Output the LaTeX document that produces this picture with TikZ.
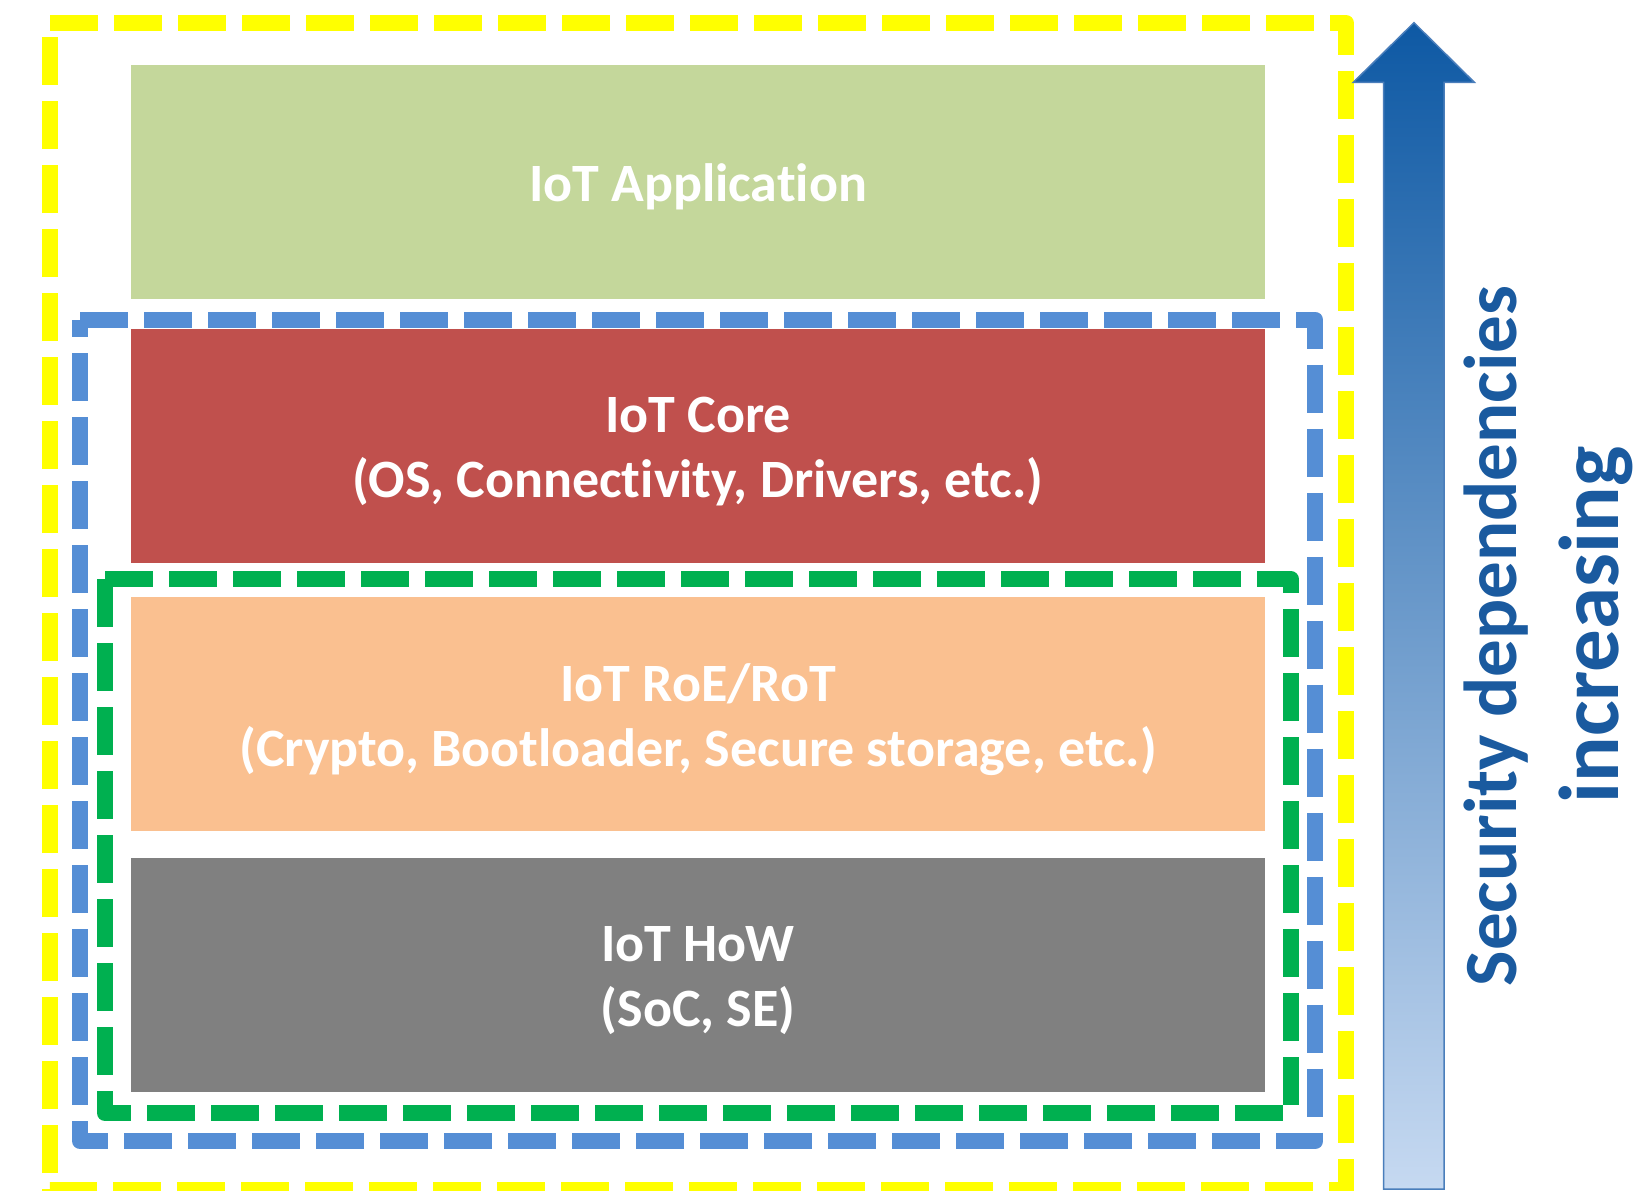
\documentclass[tikz,border=0pt]{standalone}
\usepackage{fontspec}
\setmainfont{Carlito}[Ligatures=NoCommon]
\definecolor{appgreen}{HTML}{C4D79B}
\definecolor{corered}{HTML}{C0504D}
\definecolor{roeorange}{HTML}{FAC090}
\definecolor{howgray}{HTML}{808080}
\definecolor{yellowframe}{HTML}{FFFF00}
\definecolor{blueframe}{HTML}{558ED5}
\definecolor{greenframe}{HTML}{00B050}
\definecolor{arrowtop}{HTML}{0E59A4}
\definecolor{arrowbot}{HTML}{C6D9F1}
\definecolor{arrowline}{HTML}{4A7EBB}
\definecolor{secblue}{HTML}{1A5A9F}
\begin{document}
\begin{tikzpicture}[x=1pt,y=-1pt,
  layer/.style={minimum width=1134pt, minimum height=233.7pt, inner sep=0pt, outer sep=0pt},
  layertext/.style={text=white, align=center, inner sep=0pt,
    font=\bfseries\fontsize{54}{65}\selectfont},
  frame/.style={line width=16pt, dash pattern=on 48pt off 16pt, line join=round},
  sidetext/.style={rotate=90, anchor=base, text=secblue, inner sep=0pt}]
\useasboundingbox (0,0) rectangle (1636,1191);
\fill[white] (0,0) rectangle (1636,1191);
% layers
\node[layer, fill=appgreen] (app) at (698,181.85) {};
\node[layer, fill=corered] (core) at (698,445.85) {};
\node[layer, fill=roeorange] (roe) at (698,713.85) {};
\node[layer, fill=howgray] (how) at (698,975) {};
\node[layertext, yshift=-5pt] (apptext) at (app.center) {IoT Application};
\node[layertext, yshift=-6pt] (coretext) at (core.center) {IoT Core\\(OS, Connectivity, Drivers, etc.)};
\node[layertext, yshift=-6pt] (roetext) at (roe.center) {IoT RoE/RoT\\(Crypto, Bootloader, Secure storage, etc.)};
\node[layertext, yshift=-6pt] (howtext) at (how.center) {IoT HoW\\(SoC, SE)};
% dashed frames
\draw[frame, draw=yellowframe] (50,23) -- (1346,23) -- (1346,1190) -- (50,1190) -- cycle;
\draw[frame, draw=blueframe] (80.3,319.7) -- (1315.3,319.7) -- (1315.3,1141.3) -- (80.3,1141.3) -- cycle;
\draw[frame, draw=greenframe] (105,579.3) -- (1291,579.3) -- (1291,1113) -- (105,1113) -- cycle;
% arrow
\shade[top color=arrowtop, bottom color=arrowbot]
  (1383.5,1189) -- (1383.5,82.3) -- (1353.3,82.3) -- (1414,22.7) -- (1474.3,82.3) -- (1444,82.3) -- (1444,1189) -- cycle;
\draw[arrowline, line width=1.5pt, line join=miter]
  (1383.5,1189) -- (1383.5,82.3) -- (1353.3,82.3) -- (1414,22.7) -- (1474.3,82.3) -- (1444,82.3) -- (1444,1189) -- cycle;
% side text
\node[sidetext, font=\bfseries\fontsize{75}{90}\selectfont] (sec) at (1516,636) {Security dependencies};
\node[sidetext, font=\bfseries\fontsize{85}{100}\selectfont] (inc) at (1618,625) {increasing};
\end{tikzpicture}
\end{document}
